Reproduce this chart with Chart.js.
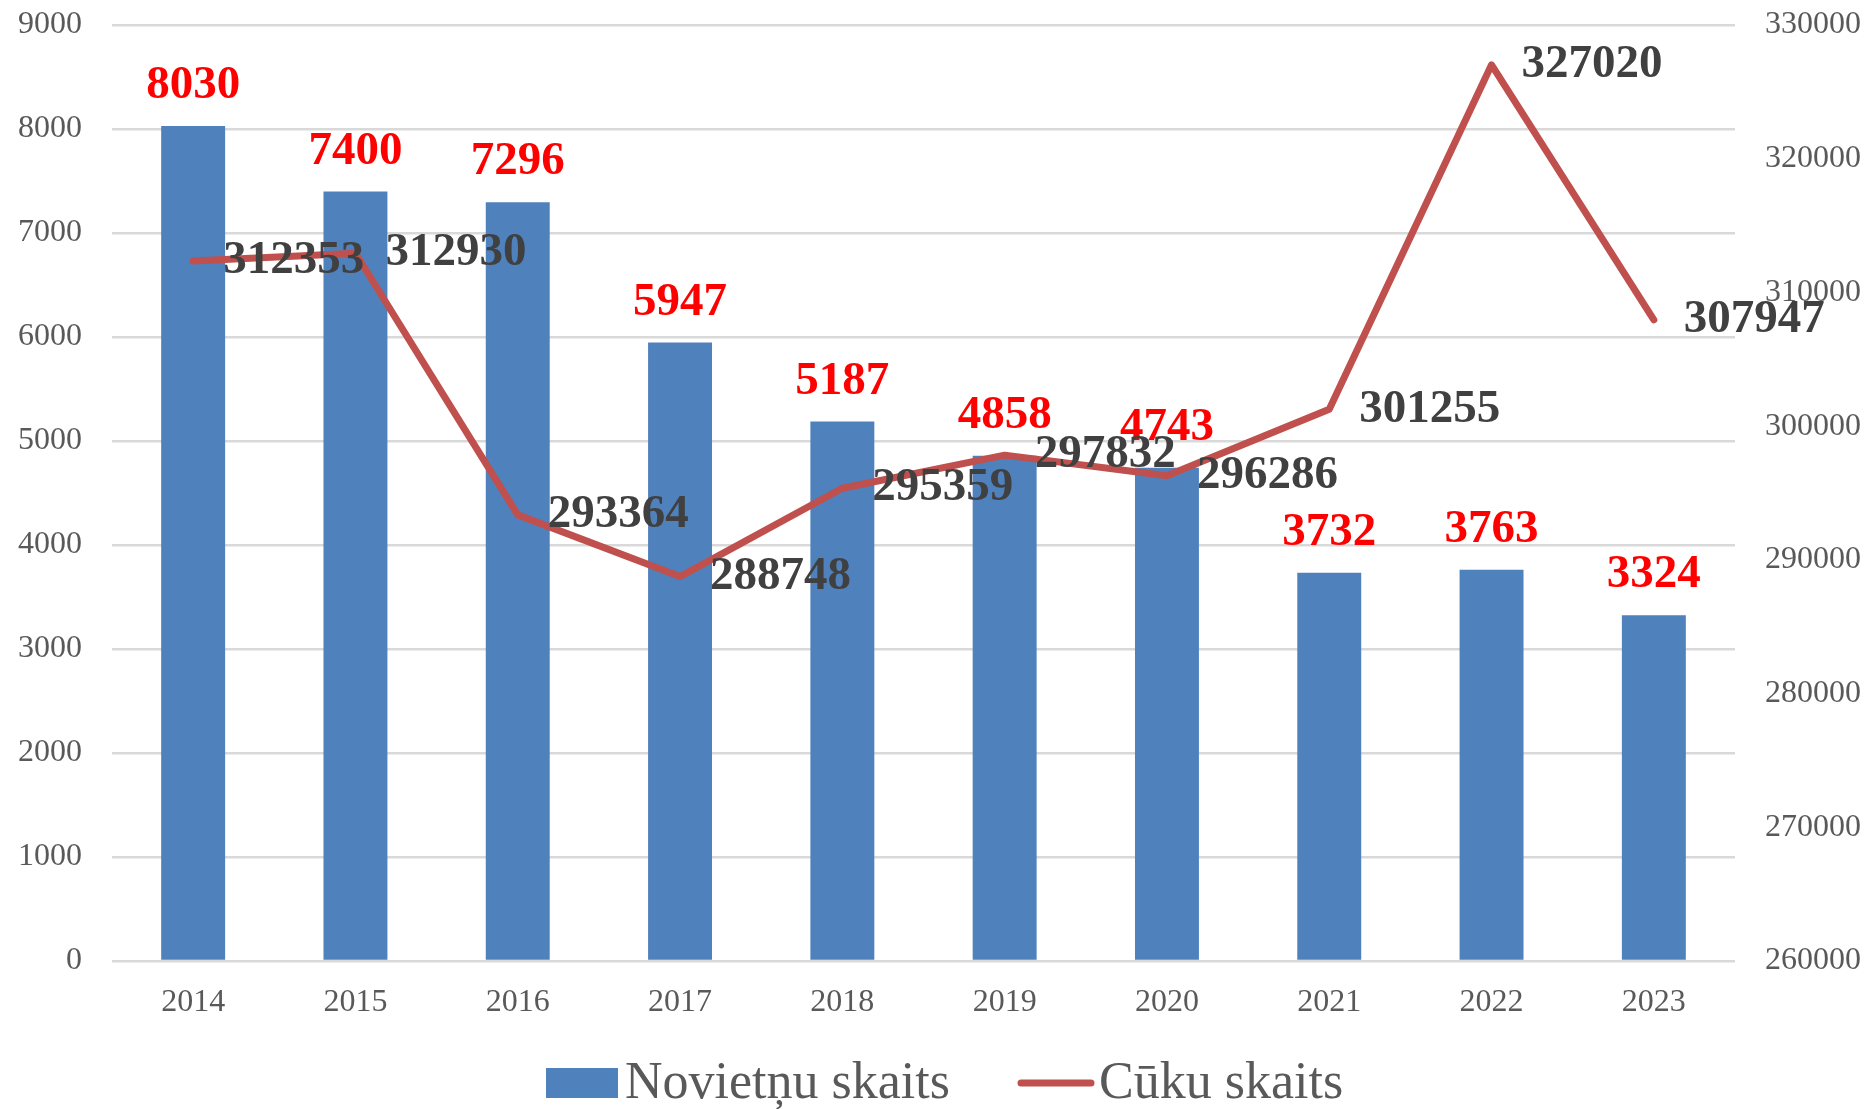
<!DOCTYPE html>
<html>
<head>
<meta charset="utf-8">
<script src="https://cdn.jsdelivr.net/npm/chart.js@4/dist/chart.umd.min.js"></script>
<style>
  html, body { margin: 0; padding: 0; background: #ffffff; }
  #wrap { width: 1873px; height: 1109px; }
</style>
</head>
<body>
<div id="wrap"><canvas id="c" width="1873" height="1109"></canvas></div>
<script>
const years = ['2014', '2015', '2016', '2017', '2018', '2019', '2020', '2021', '2022', '2023'];
const farmCounts = [8030, 7400, 7296, 5947, 5187, 4858, 4743, 3732, 3763, 3324];
const pigCounts = [312353, 312930, 293364, 288748, 295359, 297832, 296286, 301255, 327020, 307947];
const seriesNames = ['Novietņu skaits', 'Cūku skaits'];
const leftAxis = { min: 0, max: 9000, step: 1000 };
const rightAxis = { min: 260000, max: 330000, step: 10000 };

const SERIF = '"Liberation Serif", "Times New Roman", "DejaVu Serif", serif';
const BAR_COLOR = '#4F81BD';
const LINE_COLOR = '#C0504D';

const labelPlugin = {
  id: 'valueLabels',
  afterDatasetsDraw(chart) {
    const ctx = chart.ctx;
    ctx.save();
    ctx.font = 'bold 47px ' + SERIF;
    const barMeta = chart.getDatasetMeta(0);
    ctx.fillStyle = '#FF0000';
    ctx.textAlign = 'center';
    ctx.textBaseline = 'middle';
    barMeta.data.forEach((el, i) => {
      ctx.fillText(String(chart.data.datasets[0].data[i]), el.x, el.y - 40);
    });
    const lineMeta = chart.getDatasetMeta(1);
    ctx.fillStyle = '#404040';
    ctx.textAlign = 'left';
    lineMeta.data.forEach((el, i) => {
      ctx.fillText(String(chart.data.datasets[1].data[i]), el.x + 30, el.y);
    });
    ctx.restore();
  },
  afterDraw(chart) {
    const ctx = chart.ctx;
    const ds = chart.data.datasets;
    ctx.save();
    const ly = 1084;
    ctx.font = '52px ' + SERIF;
    ctx.textBaseline = 'middle';
    ctx.textAlign = 'left';
    ctx.fillStyle = ds[0].backgroundColor;
    ctx.fillRect(546, ly - 16, 72, 30);
    ctx.fillStyle = '#595959';
    ctx.fillText(ds[0].label, 625, ly);
    ctx.strokeStyle = ds[1].borderColor;
    ctx.lineWidth = 7;
    ctx.lineCap = 'round';
    ctx.beginPath();
    ctx.moveTo(1021, ly - 1);
    ctx.lineTo(1091, ly - 1);
    ctx.stroke();
    ctx.fillStyle = '#595959';
    ctx.fillText(ds[1].label, 1099, ly);
    ctx.restore();
  }
};

const plainTick = (v) => String(v);

new Chart(document.getElementById('c'), {
  data: {
    labels: years,
    datasets: [
      {
        type: 'bar',
        label: seriesNames[0],
        data: farmCounts,
        backgroundColor: BAR_COLOR,
        yAxisID: 'y',
        barPercentage: 0.394,
        categoryPercentage: 1.0,
        order: 2
      },
      {
        type: 'line',
        label: seriesNames[1],
        data: pigCounts,
        borderColor: LINE_COLOR,
        backgroundColor: LINE_COLOR,
        borderWidth: 7,
        pointRadius: 0,
        tension: 0,
        borderJoinStyle: 'round',
        borderCapStyle: 'round',
        yAxisID: 'y1',
        order: 1
      }
    ]
  },
  options: {
    responsive: false,
    animation: false,
    devicePixelRatio: 1,
    layout: { padding: { top: 25, right: 0, bottom: 0, left: 0 } },
    plugins: {
      legend: { display: false },
      tooltip: { enabled: false }
    },
    scales: {
      x: {
        grid: { display: false, drawTicks: false },
        border: { display: false },
        ticks: {
          color: '#595959',
          font: { family: SERIF, size: 32 },
          padding: 22,
          maxRotation: 0
        },
        afterFit(scale) { scale.height = 148; scale.paddingLeft = 0; scale.paddingRight = 0; }
      },
      y: {
        position: 'left',
        min: leftAxis.min,
        max: leftAxis.max,
        grid: { color: '#D9D9D9', lineWidth: 2.5, drawTicks: false },
        border: { display: false },
        ticks: {
          stepSize: leftAxis.step,
          color: '#595959',
          font: { family: SERIF, size: 32 },
          padding: 30,
          callback: plainTick
        },
        afterFit(scale) { scale.width = 112; scale.paddingTop = 0; scale.paddingBottom = 0; }
      },
      y1: {
        position: 'right',
        min: rightAxis.min,
        max: rightAxis.max,
        grid: { display: false, drawTicks: false },
        border: { display: false },
        ticks: {
          stepSize: rightAxis.step,
          color: '#595959',
          font: { family: SERIF, size: 32 },
          padding: 30,
          callback: plainTick
        },
        afterFit(scale) { scale.width = 138; scale.paddingTop = 0; scale.paddingBottom = 0; }
      }
    }
  },
  plugins: [labelPlugin]
});
</script>
</body>
</html>
